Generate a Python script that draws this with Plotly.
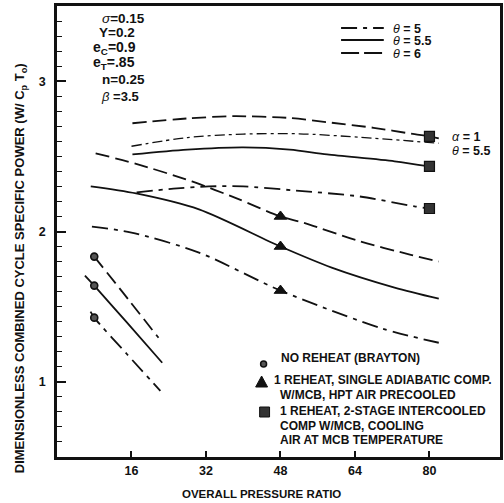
import plotly.graph_objects as go

# ---- data -------------------------------------------------------------
# No reheat (Brayton) curves, one per theta
bray_x_t6 = [8, 14, 21.8]
bray_y_t6 = [1.833, 1.60, 1.293]
bray_x_t55 = [6, 8, 15, 22.6]
bray_y_t55 = [1.707, 1.64, 1.395, 1.127]
bray_x_t5 = [7.2, 8, 15, 22.2]
bray_y_t5 = [1.467, 1.427, 1.185, 0.94]

# 1 reheat, single adiabatic compressor
rh_x_t6 = [8.3, 17, 29, 39, 48, 53, 65, 76, 82]
rh_y_t6 = [2.52, 2.45, 2.333, 2.215, 2.10, 2.058, 1.935, 1.845, 1.80]
rh_x_t55 = [7.25, 17, 30.5, 48, 59, 72.5, 82]
rh_y_t55 = [2.30, 2.253, 2.147, 1.90, 1.76, 1.627, 1.553]
rh_x_t5 = [7.5, 16, 30.5, 48, 70, 82]
rh_y_t5 = [2.033, 1.993, 1.86, 1.607, 1.353, 1.26]

# 1 reheat, 2-stage intercooled compressor
ic_x_t6 = [16.2, 28, 38, 50, 58, 68, 76.8, 80, 82]
ic_y_t6 = [2.72, 2.752, 2.767, 2.755, 2.727, 2.69, 2.647, 2.633, 2.62]
ic_x_a1 = [16, 28, 40, 52, 65, 82]
ic_y_a1 = [2.567, 2.625, 2.648, 2.65, 2.627, 2.587]
ic_x_t55 = [16.2, 28, 40, 50, 58, 72.5, 80]
ic_y_t55 = [2.513, 2.545, 2.56, 2.545, 2.513, 2.467, 2.433]
ic_x_t5 = [17.1, 25, 32.6, 40, 51, 65, 76.8, 80]
ic_y_t5 = [2.26, 2.285, 2.30, 2.30, 2.273, 2.233, 2.167, 2.153]

# design points
bray_pts_x = [8, 8, 8]
bray_pts_y = [1.833, 1.64, 1.427]
rh_pts_x = [48, 48, 48]
rh_pts_y = [2.10, 1.90, 1.607]
ic_pts_x = [80, 80, 80]
ic_pts_y = [2.633, 2.433, 2.153]

x_ticks = [16, 32, 48, 64, 80]
y_ticks = [1, 2, 3]

# ---- styles -----------------------------------------------------------
INK = "#111111"
DASH_T6 = "14px,6px"
DASH_T5 = "16px,6px,4px,6px"
DASH_A1 = "10px,4px,3px,4px"
FONT = "Liberation Sans, Arial, sans-serif"

W, H = 504, 503
L, R, T, B = 57, 1, 6, 46
PW, PH = W - L - R, H - T - B


def px(x):
    return (x - L) / PW


def py(y):
    return (H - B - y) / PH


fig = go.Figure()


def curve(x, y, dash, width=1.8):
    fig.add_trace(go.Scatter(
        x=x, y=y, mode="lines", line=dict(color=INK, width=width, dash=dash,
                                          shape="spline", smoothing=0.8),
        showlegend=False, hoverinfo="skip"))


curve(bray_x_t6, bray_y_t6, DASH_T6)
curve(bray_x_t55, bray_y_t55, "solid")
curve(bray_x_t5, bray_y_t5, DASH_T5)
curve(rh_x_t6, rh_y_t6, DASH_T6)
curve(rh_x_t55, rh_y_t55, "solid")
curve(rh_x_t5, rh_y_t5, DASH_T5)
curve(ic_x_t6, ic_y_t6, DASH_T6)
curve(ic_x_a1, ic_y_a1, DASH_A1, 1.3)
curve(ic_x_t55, ic_y_t55, "solid")
curve(ic_x_t5, ic_y_t5, DASH_T5)

fig.add_trace(go.Scatter(
    x=bray_pts_x, y=bray_pts_y, mode="markers",
    marker=dict(symbol="circle", size=7, color="#555555",
                line=dict(color=INK, width=1.6)),
    showlegend=False, hoverinfo="skip"))
fig.add_trace(go.Scatter(
    x=rh_pts_x, y=rh_pts_y, mode="markers",
    marker=dict(symbol="triangle-up", size=11, color=INK,
                line=dict(color=INK, width=1)),
    showlegend=False, hoverinfo="skip"))
fig.add_trace(go.Scatter(
    x=ic_pts_x, y=ic_pts_y, mode="markers",
    marker=dict(symbol="square", size=10, color="#333333",
                line=dict(color=INK, width=1.2)),
    showlegend=False, hoverinfo="skip"))

shapes = []
annotations = []


def text(x, y, s, size=12, anchor="left", angle=0):
    annotations.append(dict(
        x=px(x), y=py(y), xref="paper", yref="paper", text=s,
        showarrow=False, xanchor=anchor, yanchor="middle", textangle=angle,
        font=dict(family=FONT, size=size, color=INK)))


# parameter block
text(100, 18, "<i>σ</i><b>=0.15</b>", 13.5)
text(97, 33, "<b>Y=0.2</b>", 13.5)
text(91, 48, "<b>e<sub>C</sub>=0.9</b>", 14)
text(91, 63, "<b>e<sub>T</sub>=.85</b>", 14)
text(100, 79, "<b>n=0.25</b>", 13.5)
text(99, 96, "<i>β</i> <b>=3.5</b>", 13)

# theta key
for yy, dash, lab in [(28, DASH_T5, "<i>θ</i> <b>= 5</b>"),
                      (40, "solid", "<i>θ</i> <b>= 5.5</b>"),
                      (53, "18px,5px", "<i>θ</i> <b>= 6</b>")]:
    shapes.append(dict(type="line", xref="paper", yref="paper",
                       x0=px(343), x1=px(386), y0=py(yy), y1=py(yy),
                       line=dict(color=INK, width=1.8, dash=dash)))
    text(393, yy + 1, lab, 12.5)

# alpha = 1 curve label
text(453, 137, "<i>α</i> <b>= 1</b>", 12.5)
text(453, 151, "<i>θ</i> <b>= 5.5</b>", 12.5)

# symbol key
shapes.append(dict(type="circle", xref="paper", yref="paper",
                   x0=px(262), x1=px(268), y0=py(367), y1=py(361),
                   fillcolor="#555555", line=dict(color=INK, width=1.5)))
shapes.append(dict(type="path", xref="paper", yref="paper",
                   path=f"M {px(257)} {py(387)} L {px(269)} {py(387)} L {px(263)} {py(376)} Z",
                   fillcolor=INK, line=dict(color=INK, width=1)))
shapes.append(dict(type="rect", xref="paper", yref="paper",
                   x0=px(261), x1=px(271), y0=py(417), y1=py(407),
                   fillcolor="#333333", line=dict(color=INK, width=1)))
KS = 12
text(281, 358, "<b>NO REHEAT (BRAYTON)</b>", KS)
text(273, 380, "<b>1 REHEAT, SINGLE ADIABATIC COMP.</b>", KS)
text(279, 395, "<b>W/MCB, HPT AIR PRECOOLED</b>", KS)
text(279, 411, "<b>1 REHEAT, 2-STAGE INTERCOOLED</b>", KS)
text(279, 426, "<b>COMP W/MCB, COOLING</b>", KS)
text(279, 440, "<b>AIR AT MCB TEMPERATURE</b>", KS)

# axis titles
text(263, 494, "<b>OVERALL PRESSURE RATIO</b>", 11.5, anchor="center")
text(20, 268, "<b>DIMENSIONLESS COMBINED CYCLE SPECIFIC POWER (W/ C<sub>p</sub> T<sub>o</sub>)</b>",
     13, anchor="center", angle=-90)

fig.update_layout(
    width=W, height=H, margin=dict(l=L, r=R, t=T, b=B),
    paper_bgcolor="white", plot_bgcolor="white",
    shapes=shapes, annotations=annotations, showlegend=False,
    font=dict(family=FONT, color=INK),
)
fig.update_xaxes(
    range=[0, 95.15], tickvals=x_ticks, ticktext=[f"<b>{v}</b>" for v in x_ticks],
    ticks="inside", ticklen=6, tickwidth=1.8, tickcolor=INK,
    showline=True, linewidth=2.5, linecolor=INK, mirror=True,
    showgrid=False, zeroline=False, tickfont=dict(size=12.5, family=FONT),
)
fig.update_yaxes(
    range=[0.5, 3.5], tickvals=y_ticks, ticktext=[f"<b>{v}</b>" for v in y_ticks],
    ticks="inside", ticklen=9, tickwidth=1.8, tickcolor=INK,
    minor=dict(dtick=0.1, tick0=0, ticks="inside", ticklen=5, tickwidth=1.2, tickcolor=INK),
    showline=True, linewidth=2.5, linecolor=INK, mirror=True,
    showgrid=False, zeroline=False, tickfont=dict(size=12.5, family=FONT),
    ticklabelstandoff=6,
)

fig.write_html("out.html")
